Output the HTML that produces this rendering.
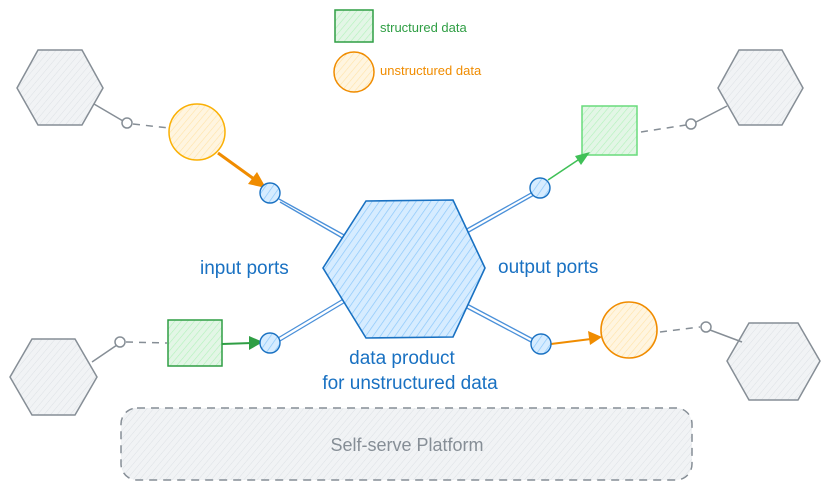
<!DOCTYPE html>
<html><head><meta charset="utf-8"><style>
html,body{margin:0;padding:0;background:#fff;width:827px;height:491px;overflow:hidden}
svg text{font-family:"Liberation Sans",sans-serif}
</style></head><body>
<svg width="827" height="491" viewBox="0 0 827 491" xmlns="http://www.w3.org/2000/svg">
<defs>
<pattern id="hb" width="6" height="6" patternUnits="userSpaceOnUse" patternTransform="rotate(35)"><rect width="6" height="6" fill="#d6ecff"/><line x1="0" y1="0" x2="0" y2="6" stroke="#8cc8fa" stroke-width="1.4"/></pattern>
<pattern id="hg" width="5" height="5" patternUnits="userSpaceOnUse" patternTransform="rotate(40)"><rect width="5" height="5" fill="#f1f3f5"/><line x1="0" y1="0" x2="0" y2="5" stroke="#dde1e5" stroke-width="1"/></pattern>
<pattern id="hgr" width="5" height="5" patternUnits="userSpaceOnUse" patternTransform="rotate(40)"><rect width="5" height="5" fill="#e3f6e6"/><line x1="0" y1="0" x2="0" y2="5" stroke="#b2f2bb" stroke-width="1.2"/></pattern>
<pattern id="ho" width="5" height="5" patternUnits="userSpaceOnUse" patternTransform="rotate(40)"><rect width="5" height="5" fill="#fff5e0"/><line x1="0" y1="0" x2="0" y2="5" stroke="#ffe3a8" stroke-width="1.2"/></pattern>
</defs>

<!-- platform -->
<rect x="121" y="408" width="571" height="72" rx="16" fill="url(#hg)" stroke="#868e96" stroke-width="1.5" stroke-dasharray="8 6"/>
<text x="407" y="451" font-size="18" fill="#868e96" text-anchor="middle">Self-serve Platform</text>

<!-- grey hexagons -->
<g fill="url(#hg)" stroke="#868e96" stroke-width="1.5">
<polygon points="17,88 38,50 82,50 103,88 82,125 38,125"/>
<polygon points="718,88 739,50 782,50 803,88 782,125 739,125"/>
<polygon points="10,377 32,339 75,339 97,377 75,415 32,415"/>
<polygon points="727,361 749,323 798,323 820,361 798,400 749,400"/>
</g>

<!-- grey connectors -->
<g stroke="#868e96" stroke-width="1.5" fill="#fff">
<line x1="94" y1="104" x2="123" y2="121"/>
<line x1="727" y1="106" x2="696" y2="122"/>
<line x1="92" y1="362" x2="117" y2="345"/>
<line x1="742" y1="342" x2="710" y2="330"/>
<g stroke-dasharray="7 6">
<line x1="133" y1="124" x2="169" y2="128"/>
<line x1="641" y1="132" x2="686" y2="125"/>
<line x1="126" y1="342" x2="167" y2="343"/>
<line x1="660" y1="332" x2="700" y2="327"/>
</g>
<circle cx="127" cy="123" r="5"/><circle cx="691" cy="124" r="5"/>
<circle cx="120" cy="342" r="5"/><circle cx="706" cy="327" r="5"/>
</g>

<!-- blue links -->
<g stroke="#4a90d9" stroke-width="1.3">
<line x1="279" y1="199" x2="346" y2="236"/><line x1="280" y1="202" x2="344" y2="239"/>
<line x1="549" y1="183" x2="465" y2="230"/><line x1="550" y1="186" x2="467" y2="233"/>
<line x1="278" y1="338" x2="345" y2="298"/><line x1="280" y1="341" x2="347" y2="301"/>
<line x1="533" y1="339" x2="467" y2="304"/><line x1="531" y1="342" x2="465" y2="307"/>
</g>

<!-- center hexagon -->
<polygon points="323,268 366,201 453,200 485,268 453,337 366,338" fill="url(#hb)" stroke="#1971c2" stroke-width="1.6"/>

<!-- data shapes -->
<circle cx="197" cy="132" r="28" fill="url(#ho)" stroke="#fab005" stroke-width="1.5"/>
<circle cx="629" cy="330" r="28" fill="url(#ho)" stroke="#f08c00" stroke-width="1.6"/>
<rect x="582" y="106" width="55" height="49" fill="url(#hgr)" stroke="#69db7c" stroke-width="1.5"/>
<rect x="168" y="320" width="54" height="46" fill="url(#hgr)" stroke="#2f9e44" stroke-width="1.5"/>

<!-- arrows -->
<line x1="218" y1="153" x2="254" y2="179" stroke="#f08c00" stroke-width="3"/>
<polygon points="266,188 248,184 257,172" fill="#f08c00"/>
<line x1="548" y1="180" x2="581" y2="158" stroke="#40c057" stroke-width="1.6"/>
<polygon points="590,152 575,156 581,165" fill="#40c057"/>
<line x1="222" y1="344" x2="252" y2="343" stroke="#2f9e44" stroke-width="2"/>
<polygon points="263,342 249,336 249,350" fill="#2f9e44"/>
<line x1="551" y1="344" x2="591" y2="339" stroke="#f08c00" stroke-width="2"/>
<polygon points="602,337 588,331 590,345" fill="#f08c00"/>

<!-- ports -->
<g fill="url(#hb)" stroke="#1971c2" stroke-width="1.4">
<circle cx="270" cy="193" r="10"/><circle cx="540" cy="188" r="10"/>
<circle cx="270" cy="343" r="10"/><circle cx="541" cy="344" r="10"/>
</g>

<!-- legend -->
<rect x="335" y="10" width="38" height="32" fill="url(#hgr)" stroke="#2f9e44" stroke-width="1.5"/>
<text x="380" y="32" font-size="13" fill="#2f9e44">structured data</text>
<circle cx="354" cy="72" r="20" fill="url(#ho)" stroke="#f08c00" stroke-width="1.5"/>
<text x="380" y="75" font-size="13" fill="#f08c00">unstructured data</text>

<!-- labels -->
<g fill="#1971c2" font-size="19">
<text x="200" y="274">input ports</text>
<text x="498" y="273">output ports</text>
<text x="402" y="364" text-anchor="middle">data product</text>
<text x="410" y="389" text-anchor="middle">for unstructured data</text>
</g>
</svg>
</body></html>
